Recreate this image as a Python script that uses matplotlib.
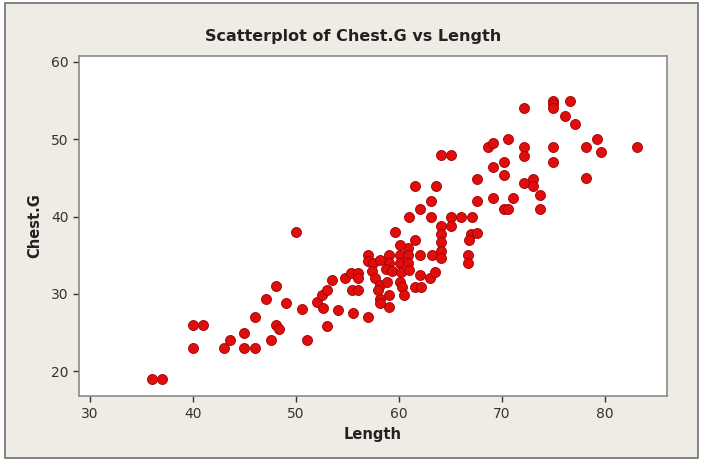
import matplotlib
matplotlib.use("Agg")
import matplotlib.pyplot as plt
from matplotlib.patches import Rectangle

length = [36, 37, 40, 41, 40, 43, 43.6, 45, 46, 45, 46, 47.6, 48.1, 48.4,
          47.1, 48.1, 49, 50.6, 51.1, 52, 52.5, 52.6, 53, 53, 53.5, 54.1,
          54.8, 55.3, 56, 56, 55.4, 56, 55.5, 57, 50,
          57, 57, 57.5, 58.2, 59, 59, 60.1, 60.1, 60.9, 60.9, 60.9, 62, 63.2,
          59.6, 61.6, 60.1, 58.7, 59.3, 60.2, 61, 62, 63, 63.5, 57.4, 57.7,
          58.2, 58.8, 60.1, 60.3, 61.6, 62.1, 60.5, 59, 59, 58.2, 58.2, 58,
          61, 62, 63.1, 63.1, 61.6, 63.6, 64.1, 65.1, 65.1, 66, 67.1, 65.1,
          64.1, 64.1, 64.1, 64.1, 64.1, 67, 67.6, 66.8, 66.7, 66.7,
          67.6, 67.6, 69.1, 71.1, 70.2, 70.6, 69.1, 70.2, 70.2, 68.6, 69.1,
          70.6, 72.1, 72.1, 72.1, 73, 73, 73.7, 73.7, 72.1, 75, 75, 75,
          76.6, 76.1, 77.1, 75, 75, 78.2, 79.2, 79.6, 83.1, 78.2]
chest_g = [19, 19, 26, 26, 23, 23, 24, 23, 23, 25, 27, 24, 26, 25.4,
           29.3, 31, 28.8, 28, 24, 29, 29.8, 28.2, 30.5, 25.8, 31.8, 27.9,
           32, 32.7, 32.7, 32, 30.5, 30.5, 27.5, 27, 38,
           35, 34.2, 34, 34.4, 35, 34, 35, 34, 35.9, 35, 34, 35, 35,
           38, 37, 36.3, 33.2, 33, 32.8, 33.1, 32.4, 32, 32.8, 33, 32,
           31.1, 31.5, 31.5, 30.9, 30.9, 30.9, 29.8, 29.8, 28.3, 29.4, 28.8, 30.5,
           40, 41, 42, 40, 44, 44, 48, 48, 40, 40, 40, 38.8,
           38.8, 37.8, 36.7, 35.6, 34.7, 37.8, 37.9, 37, 35, 34,
           42, 44.8, 42.4, 42.4, 41, 41, 46.4, 47, 45.4, 49, 49.5,
           50, 49, 47.8, 44.3, 44.8, 43.9, 42.8, 41, 54, 55, 54.5, 54,
           55, 53, 52, 49, 47, 49, 50, 48.3, 49, 45]

xticks = [30, 40, 50, 60, 70, 80]
yticks = [20, 30, 40, 50, 60]

fig = plt.figure(figsize=(7.07, 4.65), dpi=100, facecolor="white")

# grey Minitab-style frame
frame = Rectangle((5 / 707, 1 - 458 / 465), 693 / 707, 455 / 465,
                  transform=fig.transFigure, facecolor="#efece5",
                  edgecolor="#6e6e6e", linewidth=1.2, zorder=-10)
fig.patches.append(frame)

ax = fig.add_axes([0.1124, 0.1484, 0.8306, 0.7318])
ax.set_zorder(5)
ax.set_facecolor("white")
ax.scatter(length, chest_g, s=52, color="#e00d0d", edgecolors="#a00000",
           linewidths=0.6, zorder=3)

ax.set_xlim(28.98, 86.0)
ax.set_ylim(16.8, 60.8)
ax.set_xticks(xticks)
ax.set_yticks(yticks)
for sp in ["top", "right", "left", "bottom"]:
    ax.spines[sp].set_color("#8a8a8a")
    ax.spines[sp].set_linewidth(1.2)
ax.tick_params(direction="out", length=4, width=1, color="#333333",
               labelsize=10, labelcolor="#333333", pad=4)

ax.set_xlabel("Length", fontsize=10.5, fontweight="bold", color="#222222", labelpad=4)
ax.set_ylabel("Chest.G", fontsize=10.5, fontweight="bold", color="#222222", labelpad=6)
fig.text(0.5, 1 - 37 / 465, "Scatterplot of Chest.G vs Length", ha="center",
         va="center", fontsize=11.5, fontweight="bold", color="#222222")

fig.savefig("out.png", dpi=100, facecolor=fig.get_facecolor())
